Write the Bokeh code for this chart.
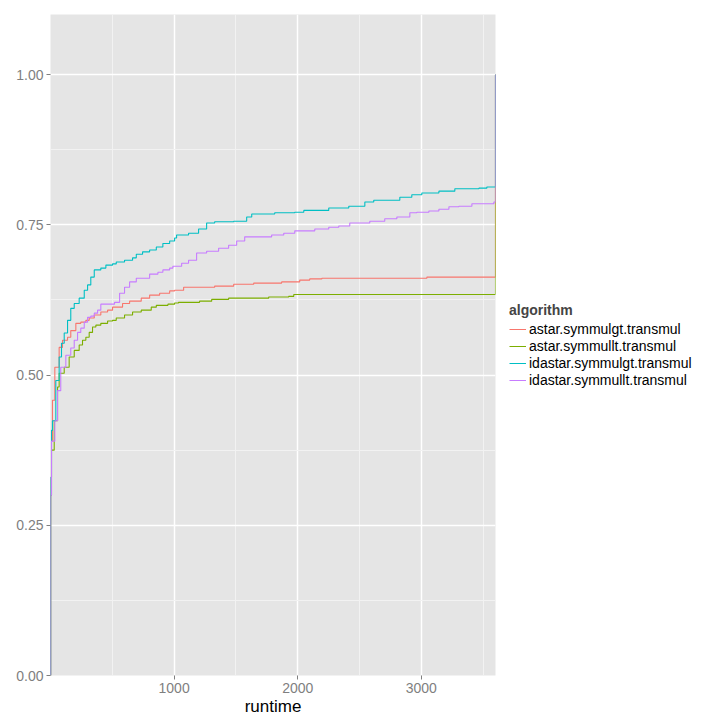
from bokeh.plotting import figure
from bokeh.models import Range1d, FixedTicker, Legend, LegendItem, NumeralTickFormatter
from bokeh.embed import file_html
from bokeh.resources import INLINE

FONT = "Liberation Sans"

algorithms = ["astar.symmulgt.transmul", "astar.symmullt.transmul",
              "idastar.symmulgt.transmul", "idastar.symmullt.transmul"]
colors = ["#F8766D", "#7CAE00", "#00BFC4", "#C77CFF"]

# runtime (x) and fraction solved (y), step functions
astar_gt_t = [0, 1, 8, 16, 35, 70, 97, 138, 164, 205, 245, 286, 313, 354, 407, 462, 502, 583, 640, 734,
              802, 883, 964, 1004, 1077, 1328, 1482, 1644, 1870, 2016, 2097, 2195, 3045, 3600]
astar_gt_v = [0, 0.33, 0.39, 0.458, 0.513, 0.546, 0.558, 0.563, 0.574, 0.586, 0.588, 0.591, 0.595, 0.600,
              0.605, 0.608, 0.613, 0.619, 0.623, 0.628, 0.633, 0.636, 0.640, 0.641, 0.646, 0.648, 0.651,
              0.653, 0.655, 0.658, 0.660, 0.661, 0.663, 1.0]

astar_lt_t = [0, 1, 8, 30, 57, 70, 111, 151, 192, 232, 259, 286, 313, 340, 367, 407, 462, 502, 532, 599,
              664, 734, 815, 856, 950, 1004, 1036, 1206, 1304, 1441, 1765, 1927, 1968, 3600]
astar_lt_v = [0, 0.30, 0.375, 0.424, 0.480, 0.503, 0.513, 0.530, 0.541, 0.550, 0.558, 0.563, 0.571, 0.580,
              0.583, 0.586, 0.590, 0.591, 0.595, 0.600, 0.605, 0.608, 0.613, 0.616, 0.618, 0.620, 0.621,
              0.623, 0.626, 0.628, 0.630, 0.631, 0.634, 1.0]

idastar_gt_t = [0, 1, 8, 16, 43, 70, 89, 111, 138, 164, 192, 232, 273, 300, 326, 354, 407, 448, 502, 532,
                599, 664, 694, 745, 802, 856, 909, 964, 1004, 1020, 1117, 1198, 1263, 1328, 1482, 1587,
                1628, 1814, 1976, 2049, 2251, 2413, 2543, 2615, 2826, 2923, 3004, 3142, 3271, 3466, 3530, 3600]
idastar_gt_v = [0, 0.33, 0.408, 0.424, 0.491, 0.530, 0.553, 0.570, 0.591, 0.611, 0.619, 0.628, 0.641, 0.650,
                0.663, 0.675, 0.678, 0.683, 0.685, 0.688, 0.691, 0.695, 0.701, 0.705, 0.708, 0.713, 0.719,
                0.723, 0.728, 0.733, 0.736, 0.743, 0.753, 0.755, 0.756, 0.763, 0.768, 0.770, 0.771, 0.774,
                0.778, 0.781, 0.788, 0.791, 0.796, 0.800, 0.803, 0.806, 0.810, 0.811, 0.813, 1.0]

idastar_lt_t = [0, 1, 8, 35, 57, 83, 124, 164, 192, 219, 245, 273, 300, 326, 354, 381, 407, 518, 559, 599,
                640, 694, 802, 869, 909, 964, 990, 1061, 1117, 1182, 1263, 1360, 1441, 1506, 1571, 1789,
                1887, 1976, 2138, 2251, 2332, 2421, 2583, 2704, 2802, 2907, 2964, 3061, 3142, 3223, 3304,
                3409, 3587, 3600]
idastar_lt_v = [0, 0.30, 0.39, 0.424, 0.474, 0.513, 0.533, 0.545, 0.558, 0.571, 0.578, 0.588, 0.596, 0.598,
                0.603, 0.608, 0.618, 0.621, 0.636, 0.646, 0.655, 0.661, 0.668, 0.671, 0.675, 0.678, 0.681,
                0.686, 0.691, 0.703, 0.706, 0.711, 0.716, 0.723, 0.730, 0.733, 0.736, 0.740, 0.743, 0.746,
                0.748, 0.753, 0.756, 0.760, 0.763, 0.770, 0.771, 0.773, 0.776, 0.780, 0.781, 0.785, 0.788, 1.0]

series_t = [astar_gt_t, astar_lt_t, idastar_gt_t, idastar_lt_t]
series_v = [astar_gt_v, astar_lt_v, idastar_gt_v, idastar_lt_v]

x_ticks = [1000, 2000, 3000]
x_minor = [500, 1500, 2500, 3500]
y_ticks = [0, 0.25, 0.5, 0.75, 1.0]
y_minor = [0.125, 0.375, 0.625, 0.875]

p = figure(frame_width=445, frame_height=661,
           min_border_left=50, min_border_right=0, min_border_top=14, min_border_bottom=45,
           x_range=Range1d(0, 3600), y_range=Range1d(0, 1.1),
           output_backend="svg", toolbar_location=None)

p.background_fill_color = "#E5E5E5"
p.border_fill_color = "white"
p.outline_line_color = None

p.xaxis.ticker = FixedTicker(ticks=x_ticks, minor_ticks=x_minor)
p.yaxis.ticker = FixedTicker(ticks=y_ticks, minor_ticks=y_minor)
p.yaxis.formatter = NumeralTickFormatter(format="0.00")

for g in (p.xgrid, p.ygrid):
    g.grid_line_color = "white"
    g.grid_line_width = 1.5
    g.minor_grid_line_color = "#F2F2F2"
    g.minor_grid_line_width = 1

for ax in (p.xaxis, p.yaxis):
    ax.axis_line_color = None
    ax.major_tick_line_color = "#7F7F7F"
    ax.major_tick_out = 4
    ax.major_tick_in = 0
    ax.minor_tick_line_color = None
    ax.major_label_text_color = "#7F7F7F"
    ax.major_label_text_font_size = "14px"
    ax.major_label_text_font = FONT
    ax.major_label_standoff = 3

p.xaxis.axis_label = "runtime"
p.xaxis.axis_label_text_font = FONT
p.xaxis.axis_label_text_font_size = "17px"
p.xaxis.axis_label_text_font_style = "normal"
p.xaxis.axis_label_text_color = "black"
p.xaxis.axis_label_standoff = 1

items = []
for name, col, t, v in zip(algorithms, colors, series_t, series_v):
    r = p.step(t, v, mode="after", line_color=col, line_width=1.1)
    items.append(LegendItem(label=name, renderers=[r]))

legend = Legend(items=items, location="left", title="algorithm",
                title_text_font=FONT, title_text_font_size="14px", title_text_font_style="bold",
                title_standoff=3,
                label_text_font=FONT, label_text_font_size="14px", label_text_color="black",
                glyph_width=17, glyph_height=17, label_height=17, label_standoff=3,
                spacing=0, padding=0, margin=14,
                border_line_color=None, background_fill_alpha=0)
p.add_layout(legend, "right")

open("out.html", "w").write(file_html(p, INLINE))
